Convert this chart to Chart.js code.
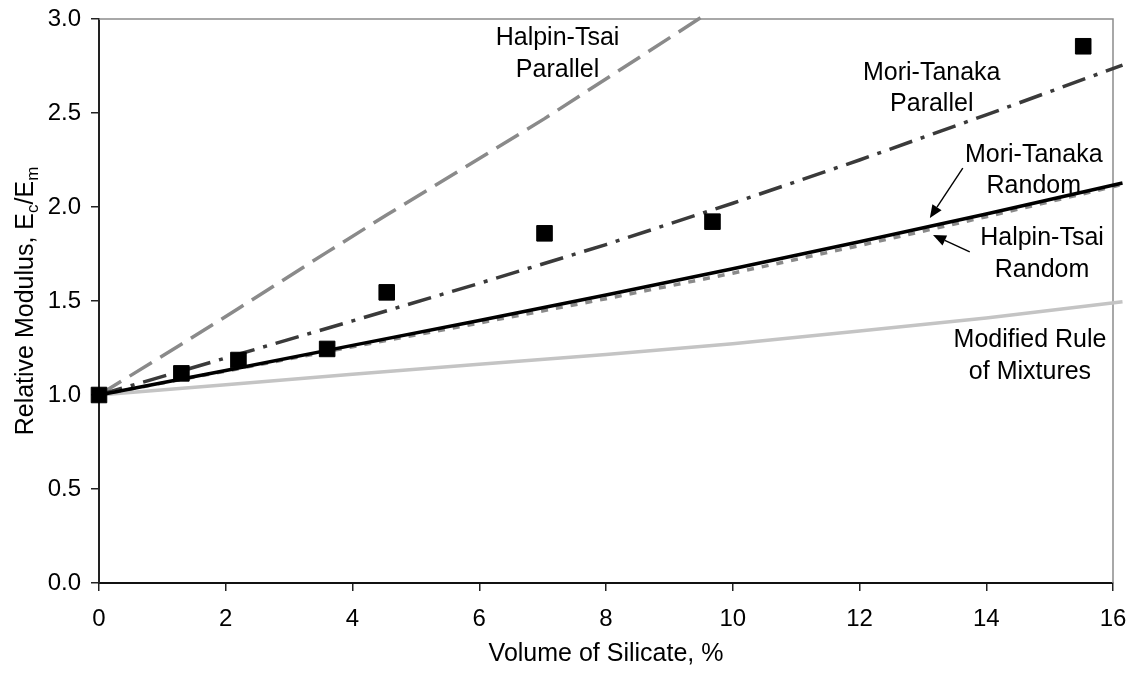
<!DOCTYPE html>
<html>
<head>
<meta charset="utf-8">
<script src="https://cdn.jsdelivr.net/npm/chart.js@4.4.1/dist/chart.umd.min.js"></script>
<style>
  html, body { margin: 0; padding: 0; background: #fff; }
</style>
</head>
<body>
<canvas id="modulusChart" width="1136" height="677"></canvas>
<script>
// measured relative modulus (squares)
const measuredX = [0, 1.3, 2.2, 3.6, 4.54, 7.03, 9.68, 15.53];
const measuredY = [1.0, 1.115, 1.186, 1.245, 1.546, 1.86, 1.922, 2.855];

// model curves
const htParallelX = [0, 1.3, 2.2, 3.6, 4.55, 7.03, 9.6];
const htParallelY = [1.0, 1.27, 1.46, 1.76, 1.96, 2.47, 3.03];

const modelX = [0, 2, 4, 6, 8, 10, 12, 14, 16.15];
const mtParallelY = [1.0, 1.197, 1.394, 1.594, 1.80, 2.02, 2.25, 2.49, 2.755];
const mtRandomY = [1.0, 1.13, 1.264, 1.396, 1.532, 1.672, 1.815, 1.963, 2.128];
const htRandomY = [1.0, 1.127, 1.257, 1.383, 1.512, 1.648, 1.795, 1.948, 2.12];
const mixturesY = [1.0, 1.055, 1.11, 1.163, 1.215, 1.272, 1.34, 1.41, 1.496];

const xTicks = [0, 2, 4, 6, 8, 10, 12, 14, 16];
const yTicks = [0, 0.5, 1.0, 1.5, 2.0, 2.5, 3.0];

// curve labels, placed in data units
const labelLines = [
  ['Halpin-Tsai', 'Parallel'],
  ['Mori-Tanaka', 'Parallel'],
  ['Mori-Tanaka', 'Random'],
  ['Halpin-Tsai', 'Random'],
  ['Modified Rule', 'of Mixtures']
];
const labelAt = [[7.235, 2.812], [13.14, 2.63], [14.75, 2.194], [14.88, 1.75], [14.69, 1.207]];
const arrowFrom = [[13.63, 2.207], [13.74, 1.761]];
const arrowTo = [[13.11, 1.941], [13.16, 1.851]];

const FONT = 'Liberation Sans, Arial, Helvetica, sans-serif';

function pairs(xs, ys) {
  return xs.map((x, i) => ({ x: x, y: ys[i] }));
}

function curve(label, xs, ys, color, width, dash) {
  return {
    label: label,
    data: pairs(xs, ys),
    showLine: true,
    borderColor: color,
    borderWidth: width,
    borderDash: dash,
    pointRadius: 0,
    tension: 0,
    clip: false
  };
}

// keep the plot box where the original has it
function pinScale(scale, size) {
  if (scale.isHorizontal()) {
    scale.height = size;
  } else {
    scale.width = size;
  }
  scale.paddingTop = 0;
  scale.paddingRight = 0;
  scale.paddingLeft = 0;
  scale.paddingBottom = 0;
}

const decorations = {
  id: 'decorations',
  beforeDatasetsDraw(chart) {
    const ctx = chart.ctx;
    const a = chart.chartArea;
    ctx.save();
    ctx.strokeStyle = '#8c8c8c';
    ctx.lineWidth = 1.5;
    ctx.beginPath();
    ctx.moveTo(a.left, a.top);
    ctx.lineTo(a.right, a.top);
    ctx.lineTo(a.right, a.bottom);
    ctx.stroke();
    ctx.restore();
  },
  afterDraw(chart) {
    const ctx = chart.ctx;
    const xs = chart.scales.x;
    const ys = chart.scales.y;
    const a = chart.chartArea;
    ctx.save();

    // curve labels
    ctx.fillStyle = '#000';
    ctx.font = '25px ' + FONT;
    ctx.textAlign = 'center';
    ctx.textBaseline = 'middle';
    labelLines.forEach((lines, i) => {
      const px = xs.getPixelForValue(labelAt[i][0]);
      const py = ys.getPixelForValue(labelAt[i][1]);
      const step = 31.5;
      lines.forEach((t, j) => {
        ctx.fillText(t, px, py + (j - (lines.length - 1) / 2) * step);
      });
    });

    // arrows
    ctx.strokeStyle = '#000';
    ctx.lineWidth = 1.4;
    arrowFrom.forEach((f, i) => {
      const x0 = xs.getPixelForValue(f[0]);
      const y0 = ys.getPixelForValue(f[1]);
      const x1 = xs.getPixelForValue(arrowTo[i][0]);
      const y1 = ys.getPixelForValue(arrowTo[i][1]);
      const ang = Math.atan2(y1 - y0, x1 - x0);
      const len = 13, half = 5.5;
      const bx = x1 - Math.cos(ang) * len;
      const by = y1 - Math.sin(ang) * len;
      ctx.beginPath();
      ctx.moveTo(x0, y0);
      ctx.lineTo(bx, by);
      ctx.stroke();
      ctx.beginPath();
      ctx.moveTo(x1, y1);
      ctx.lineTo(bx - Math.sin(ang) * half, by + Math.cos(ang) * half);
      ctx.lineTo(bx + Math.sin(ang) * half, by - Math.cos(ang) * half);
      ctx.closePath();
      ctx.fill();
    });

    // y axis title with subscripts
    const parts = [
      ['Relative Modulus, E', false],
      ['c', true],
      ['/E', false],
      ['m', true]
    ];
    const big = '25px ' + FONT;
    const small = '17px ' + FONT;
    let total = 0;
    parts.forEach(p => {
      ctx.font = p[1] ? small : big;
      total += ctx.measureText(p[0]).width;
    });
    ctx.translate(33, (a.top + a.bottom) / 2);
    ctx.rotate(-Math.PI / 2);
    ctx.textAlign = 'left';
    ctx.textBaseline = 'alphabetic';
    let cx = -total / 2;
    parts.forEach(p => {
      ctx.font = p[1] ? small : big;
      ctx.fillText(p[0], cx, p[1] ? 5 : 0);
      cx += ctx.measureText(p[0]).width;
    });
    ctx.restore();
  }
};

new Chart(document.getElementById('modulusChart'), {
  type: 'scatter',
  data: {
    datasets: [
      {
        label: 'Experimental',
        data: pairs(measuredX, measuredY),
        pointStyle: 'rect',
        pointRadius: 11,
        pointBackgroundColor: '#000',
        pointBorderColor: '#000',
        pointBorderWidth: 1,
        showLine: false,
        clip: false
      },
      curve('Mori-Tanaka Random', modelX, mtRandomY, '#000000', 3.5, []),
      curve('Halpin-Tsai Random', modelX, htRandomY, '#8a8a8a', 3.5, [7, 8]),
      curve('Mori-Tanaka Parallel', modelX, mtParallelY, '#3a3a3a', 3.5, [24, 9, 4, 9]),
      curve('Halpin-Tsai Parallel', htParallelX, htParallelY, '#8a8a8a', 3.5, [26, 10]),
      curve('Modified Rule of Mixtures', modelX, mixturesY, '#c4c4c4', 3.5, [])
    ]
  },
  options: {
    responsive: false,
    animation: false,
    layout: { padding: { left: 0, top: 19, right: 23, bottom: 0 } },
    plugins: {
      legend: { display: false },
      tooltip: { enabled: false }
    },
    scales: {
      x: {
        type: 'linear',
        min: 0,
        max: 16,
        afterBuildTicks: scale => { scale.ticks = xTicks.map(v => ({ value: v })); },
        afterFit: scale => pinScale(scale, 94),
        grid: { drawOnChartArea: false, drawTicks: true, tickLength: 8, color: '#222', lineWidth: 1.5 },
        border: { color: '#111', width: 2 },
        ticks: { color: '#000', font: { family: FONT, size: 24 }, padding: 14, maxRotation: 0 },
        title: {
          display: true,
          text: 'Volume of Silicate, %',
          color: '#000',
          font: { family: FONT, size: 25 },
          padding: { top: 0, bottom: 8 }
        }
      },
      y: {
        type: 'linear',
        min: 0,
        max: 3,
        afterBuildTicks: scale => { scale.ticks = yTicks.map(v => ({ value: v })); },
        afterFit: scale => pinScale(scale, 99),
        grid: { drawOnChartArea: false, drawTicks: true, tickLength: 8, color: '#222', lineWidth: 1.5 },
        border: { color: '#222', width: 2 },
        ticks: {
          color: '#000',
          font: { family: FONT, size: 24 },
          padding: 10,
          callback: v => Number(v).toFixed(1)
        }
      }
    }
  },
  plugins: [decorations]
});
</script>
</body>
</html>
